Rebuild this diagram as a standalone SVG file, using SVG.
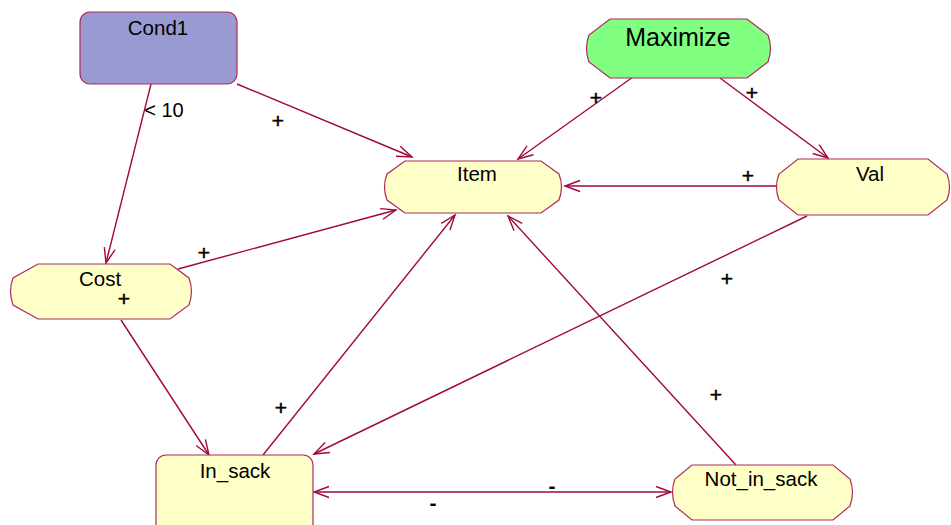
<svg xmlns="http://www.w3.org/2000/svg" width="951" height="525" viewBox="0 0 951 525">
  <style>
    .node { stroke: #b02858; stroke-width: 1.2; }
    .cond { fill: #9a9ad2; }
    .goal { fill: #80ff80; }
    .state { fill: #ffffc8; }
    .label { font-family: "Liberation Sans", Arial, sans-serif; font-size: 20.5px; fill: #000; text-anchor: middle; }
    .big { font-size: 25px; }
    .edge { fill: none; stroke: #a00840; stroke-width: 1.4; marker-end: url(#arrow); }
    .elabel { font-family: "Liberation Sans", Arial, sans-serif; font-size: 21px; fill: #000; text-anchor: middle; }
    .plus { stroke: #000; stroke-width: 0.5; }
    .minus { font-weight: bold; font-size: 21px; }
  </style>
  <defs>
    <marker id="arrow" viewBox="-16 -7 18 14" refX="0" refY="0" markerWidth="18" markerHeight="14" markerUnits="userSpaceOnUse" orient="auto-start-reverse">
      <path d="M-15,-5.5 L0,0 L-15,5.5" fill="none" stroke="#a00840" stroke-width="1.4"/>
    </marker>
  </defs>

  <g id="connectors">
    <path class="edge" d="M151,84 L106,263"/>
    <text class="elabel" x="164" y="117" style="font-size:20px">&lt; 10</text>
    <path class="edge" d="M237,84 L412,157"/>
    <text class="elabel plus" x="278" y="128">+</text>
    <path class="edge" d="M633,77 L518,159"/>
    <text class="elabel plus" x="596" y="105">+</text>
    <path class="edge" d="M720,78 L828,158"/>
    <text class="elabel plus" x="752" y="100">+</text>
    <path class="edge" d="M777,186 L565,186"/>
    <text class="elabel plus" x="748" y="183">+</text>
    <path class="edge" d="M178,269 L396,210"/>
    <text class="elabel plus" x="204" y="260">+</text>
    <path class="edge" d="M121,320 L209,455"/>
    <path class="edge" d="M807,216 L314,454"/>
    <text class="elabel plus" x="727" y="286">+</text>
    <path class="edge" d="M263,455 L455,215"/>
    <text class="elabel plus" x="281" y="415">+</text>
    <path class="edge" d="M736,465 L508,216"/>
    <text class="elabel plus" x="716" y="402">+</text>
    <path class="edge" d="M314,492 L671,492" marker-start="url(#arrow)"/>
    <text class="elabel minus" x="552" y="493">-</text>
    <text class="elabel minus" x="433" y="510">-</text>
  </g>

  <g id="cond1">
    <rect class="node cond" x="80" y="12" width="157" height="72" rx="10"/>
    <text class="label" x="158" y="35">Cond1</text>
  </g>

  <g id="maximize">
    <path class="node goal" d="M610,19 L747,19 L768,35 Q773,48 768,62 L747,78 L610,78 L589,62 Q584,48 589,35 Z"/>
    <text class="label big" x="678" y="46">Maximize</text>
  </g>

  <g id="item">
    <path class="node state" d="M405,161 L541,161 L559,174 Q564,187 559,200 L541,213 L405,213 L387,200 Q382,187 387,174 Z"/>
    <text class="label" x="477" y="181">Item</text>
  </g>

  <g id="val">
    <path class="node state" d="M798,159 L928,159 L947,174 Q952,187 947,200 L928,215 L798,215 L779,200 Q774,187 779,174 Z"/>
    <text class="label" x="870" y="181">Val</text>
  </g>

  <g id="cost">
    <path class="node state" d="M38,264 L170,264 L189,278 Q194,291 189,305 L170,319 L38,319 L13,305 Q8,291 13,278 Z"/>
    <text class="label" x="100" y="286">Cost</text>
    <text class="elabel plus" x="124" y="306">+</text>
  </g>

  <g id="in_sack">
    <rect class="node state" x="156" y="455" width="157" height="85" rx="10"/>
    <text class="label" x="235" y="478">In_sack</text>
  </g>

  <g id="not_in_sack">
    <path class="node state" d="M692,465 L833,465 L850,479 Q855,492 850,506 L833,520 L692,520 L675,506 Q670,492 675,479 Z"/>
    <text class="label" x="761" y="486">Not_in_sack</text>
  </g>
</svg>
